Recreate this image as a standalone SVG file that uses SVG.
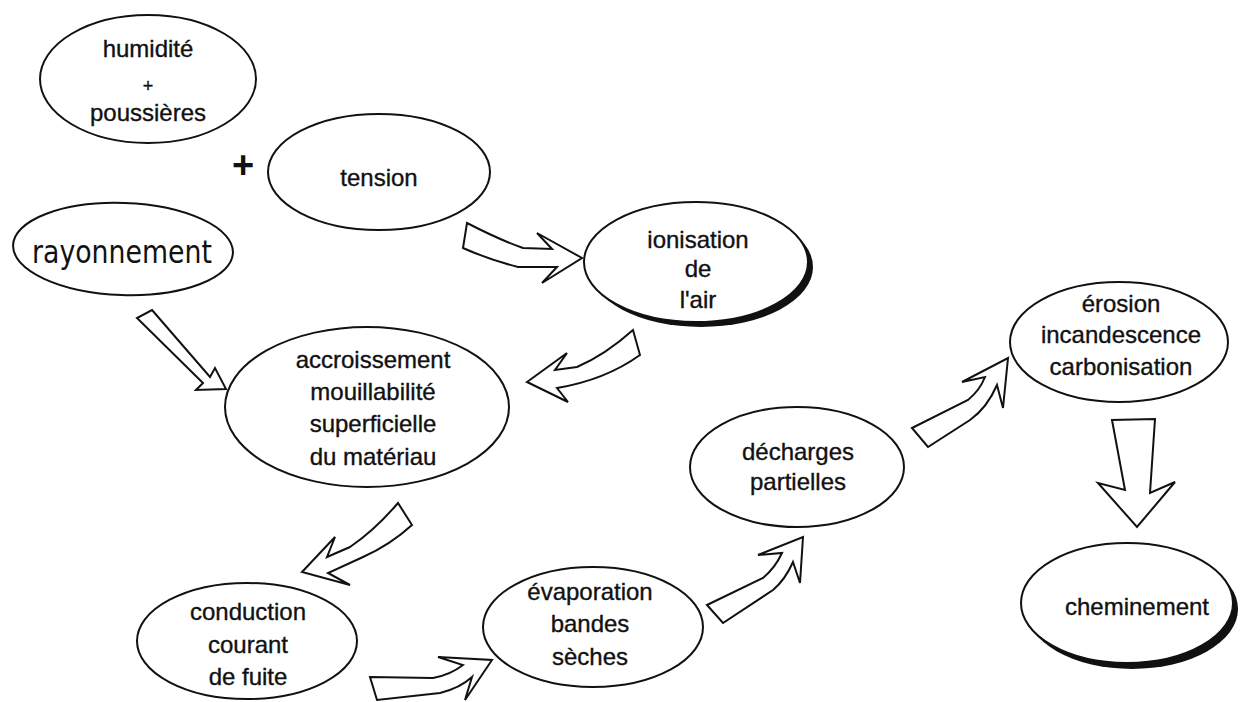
<svg xmlns="http://www.w3.org/2000/svg" width="1241" height="702" viewBox="0 0 1241 702">
<style>
.n{fill:#fff;stroke:#111;stroke-width:2}
.sh{fill:#111;stroke:none}
.t{font-family:"Liberation Sans",Arial,sans-serif;font-size:24px;fill:#111;stroke:#111;stroke-width:0.35;text-anchor:middle}
.hw{font-family:"DejaVu Sans",sans-serif;font-size:32px;fill:#111}
.a{fill:#fff;stroke:#111;stroke-width:2;stroke-linejoin:miter}
</style>
<rect width="1241" height="702" fill="#fff"/>
<g id="humidite">
<ellipse class="n" cx="148" cy="79" rx="108" ry="64"/>
<text class="t" x="148" y="57">humidité</text>
<text class="t" x="148" y="92" style="font-size:18px">+</text>
<text class="t" x="148" y="121">poussières</text>
</g>
<g id="plus">
<text x="243" y="178" style="font-family:'Liberation Sans',Arial,sans-serif;font-weight:bold;font-size:38px;fill:#111;text-anchor:middle">+</text>
</g>
<g id="tension">
<ellipse class="n" cx="379" cy="172" rx="111" ry="58"/>
<text class="t" x="379" y="186">tension</text>
</g>
<g id="rayonnement">
<ellipse class="n" cx="123" cy="249" rx="110" ry="46" transform="rotate(2 123 249)"/>
<text class="hw" x="32" y="263" textLength="180" lengthAdjust="spacingAndGlyphs">rayonnement</text>
</g>
<g id="ionisation">
<ellipse class="sh" cx="701" cy="267" rx="112" ry="60"/>
<ellipse class="n" cx="696" cy="262" rx="112" ry="60"/>
<text class="t" x="698" y="248">ionisation</text>
<text class="t" x="698" y="277">de</text>
<text class="t" x="698" y="308">l'air</text>
</g>
<g id="accroissement">
<ellipse class="n" cx="367" cy="407" rx="142" ry="80"/>
<text class="t" x="373" y="368">accroissement</text>
<text class="t" x="373" y="400">mouillabilité</text>
<text class="t" x="373" y="432">superficielle</text>
<text class="t" x="373" y="465">du matériau</text>
</g>
<g id="conduction">
<ellipse class="n" cx="247" cy="641" rx="110" ry="58"/>
<text class="t" x="248" y="620">conduction</text>
<text class="t" x="248" y="653">courant</text>
<text class="t" x="248" y="685">de fuite</text>
</g>
<g id="evaporation">
<ellipse class="n" cx="593" cy="627" rx="110" ry="60"/>
<text class="t" x="590" y="600">évaporation</text>
<text class="t" x="590" y="632">bandes</text>
<text class="t" x="590" y="665">sèches</text>
</g>
<g id="decharges">
<ellipse class="n" cx="797" cy="467" rx="107" ry="60"/>
<text class="t" x="798" y="460">décharges</text>
<text class="t" x="798" y="490">partielles</text>
</g>
<g id="erosion">
<ellipse class="n" cx="1119" cy="342" rx="109" ry="60"/>
<text class="t" x="1121" y="312">érosion</text>
<text class="t" x="1121" y="343">incandescence</text>
<text class="t" x="1121" y="375">carbonisation</text>
</g>
<g id="cheminement">
<ellipse class="sh" cx="1132" cy="609" rx="106" ry="60"/>
<ellipse class="n" cx="1127" cy="603" rx="106" ry="60"/>
<text class="t" x="1137" y="615">cheminement</text>
</g>
<g id="connectors">
<path class="a" d="M467,223 Q500,240 523,248 L552,249 L537,233 L582,258 L542,283 L557,267 L518,267 Q490,260 463,248 Z"/>
<path class="a" d="M633,330 Q605,355 577,367 L555,370 L567,353 L527,382 L568,402 L557,388 Q605,380 640,355 Z"/>
<path class="a" d="M152,310 L210,377 L215,368 L226,389 L196,390 L203,383 L137,318 Z"/>
<path class="a" d="M398,503 Q375,530 350,547 L327,557 L335,537 L302,572 L350,585 L328,573 L363,557 Q390,545 412,525 Z"/>
<path class="a" d="M370,677 L433,678 Q450,675 463,665 L438,657 L492,660 L465,700 L472,677 Q460,688 440,693 L377,700 Z"/>
<path class="a" d="M707,605 L763,578 Q775,568 782,553 L758,555 L803,537 L800,583 L793,562 Q785,580 773,590 L723,623 Z"/>
<path class="a" d="M912,428 L968,400 Q980,390 985,377 L962,382 L1008,358 L1003,408 L997,385 Q987,408 970,420 L928,447 Z"/>
<path class="a" d="M1112,420 L1125,490 L1098,483 L1137,527 L1175,482 L1150,493 L1155,419 Z"/>
</g>
</svg>
